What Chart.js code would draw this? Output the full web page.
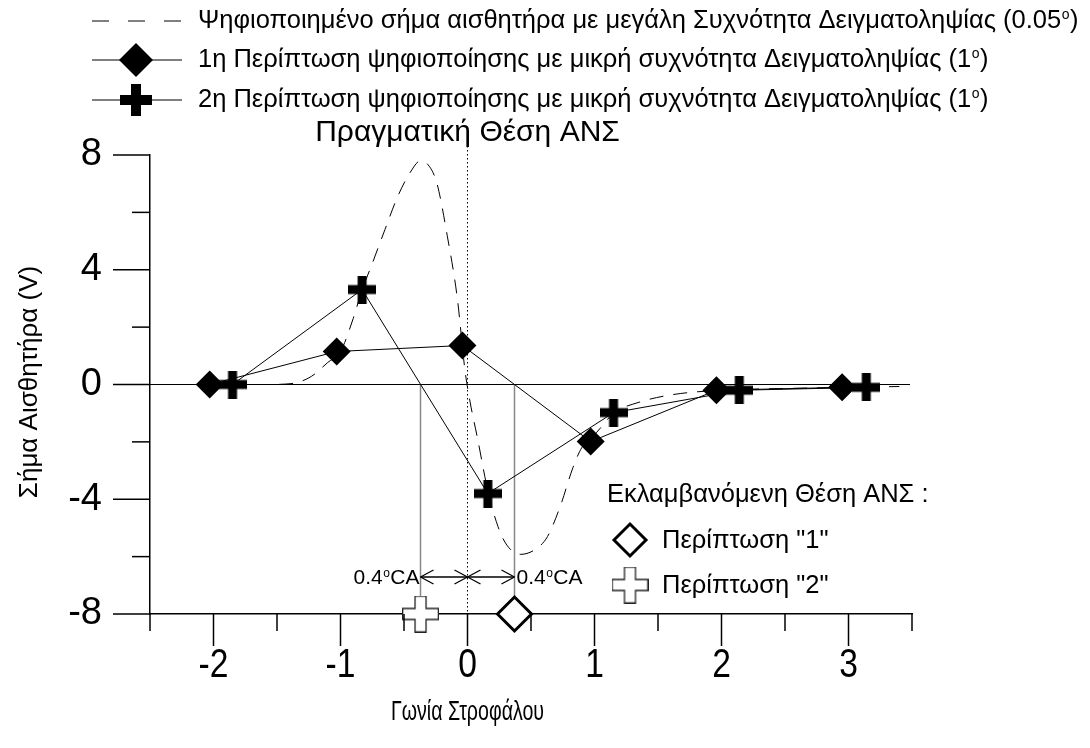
<!DOCTYPE html>
<html><head><meta charset="utf-8">
<script src="https://cdn.jsdelivr.net/npm/chart.js@4.4.1/dist/chart.umd.min.js"></script>
<style>html,body{margin:0;padding:0;background:#fff}#wrap{width:1090px;height:748px;position:relative}</style>
</head><body><div id="wrap"><canvas id="c" width="1090" height="748"></canvas></div>
<script>
// ---- data ----
const curveX = [-2.05,-1.78,-1.6,-1.39,-1.23,-1.10,-1.00,-0.90,-0.83,-0.76,-0.65,-0.55,-0.45,-0.37,-0.30,-0.24,-0.16,-0.08,-0.02,0.02,0.08,0.16,0.24,0.31,0.42,0.55,0.63,0.73,0.83,0.90,0.96,1.05,1.15,1.35,1.62,2.0,2.5,3.0,3.4];
const curveY = [0,0,0,0.03,0.28,0.77,1.15,2.3,3.3,4.1,5.4,6.55,7.4,7.8,7.6,7.0,5.2,3.0,0.5,-0.6,-1.9,-3.7,-4.95,-5.6,-5.92,-5.7,-5.3,-4.25,-2.9,-2.2,-1.95,-1.5,-1.0,-0.62,-0.35,-0.2,-0.14,-0.1,-0.07];
const case1X = [-2.03,-1.03,-0.04,0.97,1.96,2.95];
const case1Y = [0,1.15,1.36,-1.99,-0.2,-0.1];
const case2X = [-1.85,-0.83,0.16,1.15,2.14,3.14];
const case2Y = [0,3.31,-3.8,-0.98,-0.2,-0.1];
const est1X = [0.37], est1Y = [-8];
const est2X = [-0.37], est2Y = [-8];
const xTickValues = [-2,-1,0,1,2,3];
const yTickValues = [-8,-4,0,4,8];
const legendLabels = [
  'Ψηφιοποιημένο σήμα αισθητήρα με μεγάλη Συχνότητα Δειγματοληψίας (0.05°)',
  '1η Περίπτωση ψηφιοποίησης με μικρή συχνότητα Δειγματοληψίας (1°)',
  '2η Περίπτωση ψηφιοποίησης με μικρή συχνότητα Δειγματοληψίας (1°)'
];
const xTitle = 'Γωνία Στροφάλου';
const yTitle = 'Σήμα Αισθητήρα (V)';
const topNote = 'Πραγματική Θέση ΑΝΣ';
const estTitle = 'Εκλαμβανόμενη Θέση ΑΝΣ :';
const estLabels = ['Περίπτωση "1"', 'Περίπτωση "2"'];
const shiftLabel = '0.4';

const SANS = '"Liberation Sans", Arial, sans-serif';

function makePlus(size, thick, fill, stroke, lw) {
  const c = document.createElement('canvas');
  c.width = size; c.height = size;
  const g = c.getContext('2d');
  const a = (size - thick) / 2, b = a + thick, o = lw / 2, s = size - lw / 2;
  g.beginPath();
  g.moveTo(a, o); g.lineTo(b, o); g.lineTo(b, a); g.lineTo(s, a); g.lineTo(s, b); g.lineTo(b, b);
  g.lineTo(b, s); g.lineTo(a, s); g.lineTo(a, b); g.lineTo(o, b); g.lineTo(o, a); g.lineTo(a, a); g.closePath();
  g.fillStyle = fill; g.fill();
  if (lw > 0) { g.strokeStyle = stroke; g.lineWidth = lw; g.stroke(); }
  return c;
}
const plusFilled = makePlus(28, 9, '#000', '#000', 0);
const plusHollow = makePlus(37, 11, '#fff', '#222', 1.3);

function pts(xs, ys) { return xs.map((x, i) => ({x: x, y: ys[i]})); }

function drawDiamond(ctx, x, y, r, fill, stroke, lw) {
  ctx.save();
  ctx.beginPath();
  ctx.moveTo(x - r, y); ctx.lineTo(x, y - r); ctx.lineTo(x + r, y); ctx.lineTo(x, y + r); ctx.closePath();
  if (fill) { ctx.fillStyle = fill; ctx.fill(); }
  if (stroke) { ctx.strokeStyle = stroke; ctx.lineWidth = lw; ctx.stroke(); }
  ctx.restore();
}
function line(ctx, x1, y1, x2, y2, color, lw, dash) {
  ctx.save(); ctx.beginPath(); ctx.strokeStyle = color; ctx.lineWidth = lw; ctx.setLineDash(dash || []);
  ctx.moveTo(x1, y1); ctx.lineTo(x2, y2); ctx.stroke(); ctx.restore();
}
function degText(ctx, x, y, base, suffix, size, align) {
  ctx.save();
  ctx.textBaseline = 'middle';
  ctx.textAlign = 'left';
  ctx.fillStyle = '#000';
  ctx.font = size + 'px ' + SANS;
  const w1 = ctx.measureText(base).width;
  const small = Math.round(size * 0.55);
  ctx.font = small + 'px ' + SANS;
  const w2 = ctx.measureText('o').width + 1;
  ctx.font = size + 'px ' + SANS;
  const w3 = ctx.measureText(suffix).width;
  const sx = align === 'right' ? x - (w1 + w2 + w3) : x;
  ctx.fillText(base, sx, y);
  ctx.font = small + 'px ' + SANS;
  ctx.fillText('o', sx + w1 + 0.5, y - size * 0.22);
  ctx.font = size + 'px ' + SANS;
  ctx.fillText(suffix, sx + w1 + w2, y);
  ctx.restore();
}
function squeezedText(ctx, text, x, y, size, sx) {
  ctx.save();
  ctx.translate(x, y);
  ctx.scale(sx, 1);
  ctx.font = size + 'px ' + SANS;
  ctx.fillStyle = '#000';
  ctx.textAlign = 'center';
  ctx.textBaseline = 'middle';
  ctx.fillText(text, 0, 0);
  ctx.restore();
}

const under = {
  id: 'under',
  beforeDatasetsDraw(chart) {
    const ctx = chart.ctx, xs = chart.scales.x, ys = chart.scales.y;
    const y0 = ys.getPixelForValue(0), yb = ys.getPixelForValue(-8);
    line(ctx, xs.getPixelForValue(-2.5), y0, xs.getPixelForValue(3.5) - 2, y0, '#000', 1);
    const x0 = xs.getPixelForValue(0);
    line(ctx, x0, 142, x0, yb, '#000', 1, [1.5, 2.5]);
    line(ctx, xs.getPixelForValue(est2X[0]), y0, xs.getPixelForValue(est2X[0]), yb, '#888', 1.5);
    line(ctx, xs.getPixelForValue(est1X[0]), y0, xs.getPixelForValue(est1X[0]), yb, '#888', 1.5);
  }
};

const over = {
  id: 'over',
  afterDraw(chart) {
    const ctx = chart.ctx, xs = chart.scales.x, ys = chart.scales.y;
    const left = chart.chartArea.left, bottom = chart.chartArea.bottom;
    ctx.save();
    for (let v = -8; v <= 8; v += 2) {
      const p = ys.getPixelForValue(v);
      const len = (v % 4 === 0) ? 37 : 18;
      line(ctx, left - len, p, left, p, '#000', 1.5);
    }
    for (let v = -2.5; v <= 3.5001; v += 0.5) {
      const p = xs.getPixelForValue(v);
      const len = (Math.abs(v - Math.round(v)) < 1e-6) ? 32 : 17;
      line(ctx, p, bottom, p, bottom + len, '#000', 1.5);
    }
    xs.ticks.forEach(t => {
      squeezedText(ctx, String(t.value), xs.getPixelForValue(t.value), 666, 41, 0.82);
    });
    squeezedText(ctx, xTitle, xs.getPixelForValue(0), 712, 28, 0.7);
    ctx.save();
    ctx.fillStyle = '#000';
    ctx.textBaseline = 'middle';
    ctx.textAlign = 'center';
    ctx.translate(30, 382);
    ctx.rotate(-Math.PI / 2);
    ctx.font = '26px ' + SANS;
    ctx.fillText(yTitle, 0, 0);
    ctx.restore();
    ctx.fillStyle = '#000';
    ctx.textBaseline = 'middle';
    ctx.textAlign = 'center';
    ctx.font = '30px ' + SANS;
    ctx.fillText(topNote, xs.getPixelForValue(0), 133);
    const rows = [21, 60, 100];
    line(ctx, 92, rows[0], 182, rows[0], '#000', 1, [17, 19]);
    line(ctx, 92, rows[1], 182, rows[1], '#000', 1);
    drawDiamond(ctx, 136, rows[1], 17, '#000');
    line(ctx, 92, rows[2], 182, rows[2], '#000', 1);
    ctx.drawImage(makePlus(32, 10, '#000', '#000', 0), 136 - 16, rows[2] - 16);
    for (let i = 0; i < 3; i++) {
      const t = legendLabels[i];
      const base = t.slice(0, t.lastIndexOf('°'));
      degText(ctx, 198, rows[i], base, ')', 25.5, 'left');
    }
    const ya = 577;
    const xl = xs.getPixelForValue(est2X[0]), xm = xs.getPixelForValue(0), xr = xs.getPixelForValue(est1X[0]);
    function arrow(x1, x2) {
      line(ctx, x1, ya, x2, ya, '#000', 1.3);
      const d = x2 > x1 ? 1 : -1;
      line(ctx, x2 - d * 13, ya - 7, x2, ya, '#000', 1.3);
      line(ctx, x2 - d * 13, ya + 7, x2, ya, '#000', 1.3);
      line(ctx, x1 + d * 13, ya - 7, x1, ya, '#000', 1.3);
      line(ctx, x1 + d * 13, ya + 7, x1, ya, '#000', 1.3);
    }
    arrow(xl, xm); arrow(xm, xr);
    degText(ctx, xl - 1, ya + 1, shiftLabel, 'CA', 21, 'right');
    degText(ctx, xr + 2, ya + 1, shiftLabel, 'CA', 21, 'left');
    drawDiamond(ctx, 630, 540, 16, '#fff', '#000', 3);
    ctx.drawImage(plusHollow, 630 - 18.5, 585 - 18.5);
    ctx.fillStyle = '#000';
    ctx.textAlign = 'left';
    ctx.textBaseline = 'middle';
    ctx.font = '25.5px ' + SANS;
    ctx.fillText(estTitle, 607, 495);
    ctx.fillText(estLabels[0], 662, 541);
    ctx.fillText(estLabels[1], 662, 586);
    ctx.restore();
  }
};

new Chart(document.getElementById('c'), {
  type: 'scatter',
  data: {
    datasets: [
      {data: pts(curveX, curveY), showLine: true, borderColor: '#000', borderWidth: 1, borderDash: [14, 10], pointRadius: 0, cubicInterpolationMode: 'monotone'},
      {data: pts(case1X, case1Y), showLine: true, borderColor: '#000', borderWidth: 1, pointStyle: 'rectRot', pointRadius: 14, pointBackgroundColor: '#000', pointBorderWidth: 0},
      {data: pts(case2X, case2Y), showLine: true, borderColor: '#000', borderWidth: 1, pointStyle: plusFilled, pointRadius: 14},
      {data: pts(est1X, est1Y), showLine: false, pointStyle: 'rectRot', pointRadius: 17, pointBackgroundColor: '#fff', pointBorderColor: '#000', pointBorderWidth: 3, clip: false},
      {data: pts(est2X, est2Y), showLine: false, pointStyle: plusHollow, pointRadius: 18, clip: false}
    ]
  },
  options: {
    responsive: false, animation: false, devicePixelRatio: 1,
    layout: {padding: {left: 0, top: 155, right: 178, bottom: 0}},
    plugins: {legend: {display: false}, tooltip: {enabled: false}, title: {display: false}},
    scales: {
      x: {
        type: 'linear', min: -2.5, max: 3.5,
        afterFit(s) { s.height = 134; },
        afterBuildTicks(s) { s.ticks = xTickValues.map(v => ({value: v})); },
        ticks: {display: false},
        grid: {display: false, drawTicks: false},
        border: {display: true, color: '#000', width: 1.5}
      },
      y: {
        type: 'linear', min: -8, max: 8,
        afterFit(s) { s.width = 150; },
        afterBuildTicks(s) { s.ticks = yTickValues.map(v => ({value: v})); },
        ticks: {padding: 48, color: '#000', font: {family: SANS, size: 38}, autoSkip: false},
        grid: {display: false, drawTicks: false},
        border: {display: true, color: '#000', width: 1.5}
      }
    }
  },
  plugins: [under, over]
});
</script>
</body></html>
